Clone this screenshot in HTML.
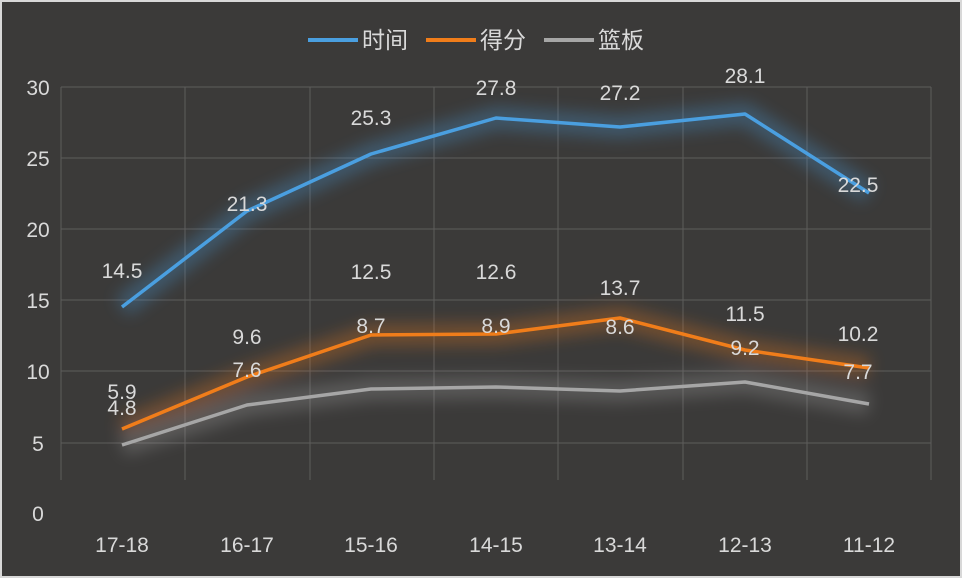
<!DOCTYPE html>
<html><head><meta charset="utf-8"><style>
html,body{margin:0;padding:0;background:#3a3938;}
svg{display:block;}
text{font-family:"Liberation Sans","Noto Sans CJK SC",sans-serif;}
</style></head><body>
<svg width="962" height="578" viewBox="0 0 962 578" xmlns="http://www.w3.org/2000/svg">
<defs><filter id="g" x="-20%" y="-50%" width="140%" height="200%"><feGaussianBlur stdDeviation="8"/></filter></defs>
<rect x="0" y="0" width="962" height="578" fill="#3b3a39"/>
<rect x="1" y="1" width="960" height="576" fill="none" stroke="#d8d8d8" stroke-width="2"/>
<g stroke="#5e5d5c" stroke-width="1">
<line x1="61" y1="87" x2="931" y2="87"/><line x1="61" y1="158" x2="931" y2="158"/>
<line x1="61" y1="229" x2="931" y2="229"/><line x1="61" y1="300" x2="931" y2="300"/>
<line x1="61" y1="371" x2="931" y2="371"/><line x1="61" y1="443" x2="931" y2="443"/>
<line x1="61" y1="87" x2="61" y2="480"/><line x1="185" y1="87" x2="185" y2="480"/>
<line x1="310" y1="87" x2="310" y2="480"/><line x1="434" y1="87" x2="434" y2="480"/>
<line x1="558" y1="87" x2="558" y2="480"/><line x1="683" y1="87" x2="683" y2="480"/>
<line x1="807" y1="87" x2="807" y2="480"/><line x1="931" y1="87" x2="931" y2="480"/>
</g>
<g font-size="21" fill="#d9d9d9" text-anchor="middle">
<text x="38" y="95">30</text><text x="38" y="166">25</text><text x="38" y="237">20</text>
<text x="38" y="308">15</text><text x="38" y="379">10</text><text x="38" y="451">5</text><text x="38" y="521">0</text>
<text x="122" y="552">17-18</text><text x="247" y="552">16-17</text><text x="371" y="552">15-16</text>
<text x="496" y="552">14-15</text><text x="620" y="552">13-14</text><text x="745" y="552">12-13</text><text x="869" y="552">11-12</text>
</g>
<g fill="none" stroke-width="22" opacity="0.3" filter="url(#g)" stroke-linejoin="round">
<polyline stroke="#4a9fe0" points="122,307 247,211 371,154 496,118 620,127 745,114 869,193"/>
<polyline stroke="#f07d1a" points="122,429 247,377 371,335 496,334 620,318 745,350 869,368"/>
<polyline stroke="#a6a6a6" points="122,445 247,405 371,389 496,387 620,391 745,382 869,404"/>
</g>
<g fill="none" stroke-width="3.5" stroke-linejoin="round">
<polyline stroke="#4a9fe0" points="122,307 247,211 371,154 496,118 620,127 745,114 869,193"/>
<polyline stroke="#f07d1a" points="122,429 247,377 371,335 496,334 620,318 745,350 869,368"/>
<polyline stroke="#a6a6a6" points="122,445 247,405 371,389 496,387 620,391 745,382 869,404"/>
</g>
<g font-size="21" fill="#d9d9d9" text-anchor="middle">
<text x="122" y="278">14.5</text><text x="247" y="211">21.3</text><text x="371" y="125">25.3</text>
<text x="496" y="95">27.8</text><text x="620" y="100">27.2</text><text x="745" y="83">28.1</text><text x="858" y="192">22.5</text>
<text x="122" y="399">5.9</text><text x="247" y="344">9.6</text><text x="371" y="279">12.5</text>
<text x="496" y="279">12.6</text><text x="620" y="295">13.7</text><text x="745" y="321">11.5</text><text x="858" y="341">10.2</text>
<text x="122" y="415">4.8</text><text x="247" y="377">7.6</text><text x="371" y="333">8.7</text>
<text x="496" y="333">8.9</text><text x="620" y="334">8.6</text><text x="745" y="355">9.2</text><text x="858" y="379">7.7</text>
</g>
<g font-size="23" fill="#d9d9d9">
<line x1="308" y1="40" x2="358" y2="40" stroke="#4a9fe0" stroke-width="4"/>
<text x="362" y="48">时间</text>
<line x1="426" y1="40" x2="476" y2="40" stroke="#f07d1a" stroke-width="4"/>
<text x="480" y="48">得分</text>
<line x1="544" y1="40" x2="594" y2="40" stroke="#a6a6a6" stroke-width="4"/>
<text x="598" y="48">篮板</text>
</g>
</svg>
</body></html>
